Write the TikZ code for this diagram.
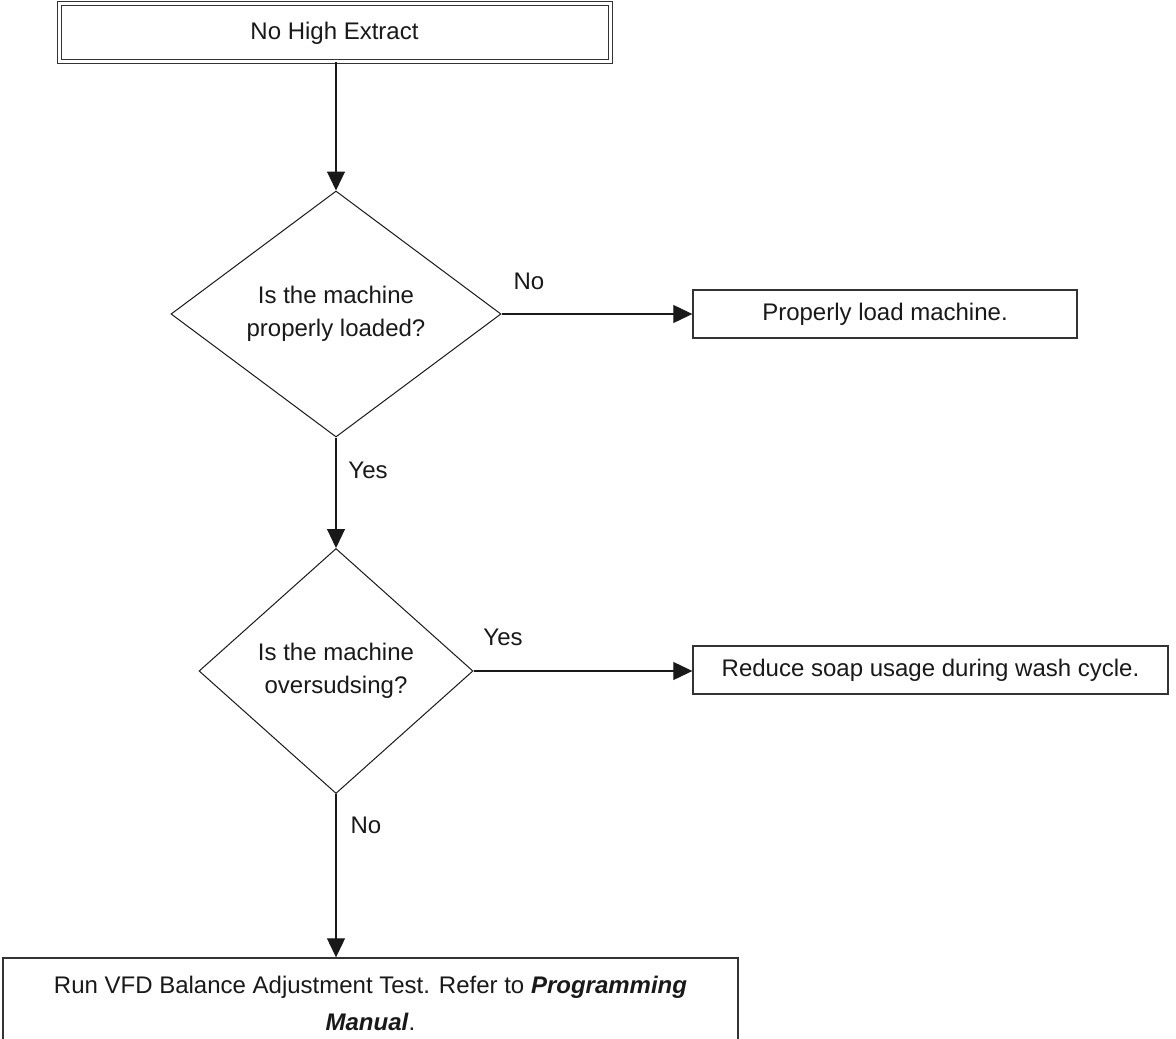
\documentclass[tikz,border=0pt]{standalone}
\usepackage{fontspec}
\setmainfont{Liberation Sans}
\usetikzlibrary{shapes.geometric,arrows.meta}
\begin{document}
\begin{tikzpicture}[x=0.5pt,y=-0.5pt,
  every node/.style={font=\fontsize{12}{16.5}\selectfont, text=black!90},
  line/.style={draw=black!90, line width=0.55pt},
  arr/.style={line, -{Triangle[length=9.5pt,width=9pt]}},
  procbox/.style={rectangle, draw=black!80, line width=0.7pt, inner sep=0pt},
  decision/.style={diamond, draw=black!90, line width=0.5pt, inner sep=0pt},
  lbl/.style={inner sep=0pt}
]
\useasboundingbox (0,0) rectangle (1176,1038);
\fill[white] (0,0) rectangle (1176,1038);

\node[procbox, double, double distance=1.5pt, line width=0.5pt,
      minimum width=275.5pt, minimum height=29pt] (start) at (334.5,33) {No High Extract};

\node[decision, aspect=1.34, minimum width=165pt, minimum height=123pt, align=center] (d1) at (336,314)
  {Is the machine\\properly loaded?};

\node[procbox, minimum width=192pt, minimum height=24pt] (load) at (885,314) {Properly load machine.};

\node[decision, aspect=1.12, minimum width=137pt, minimum height=122.5pt, align=center] (d2) at (336,671)
  {Is the machine\\oversudsing?};

\node[procbox, minimum width=237.5pt, minimum height=24pt] (soap) at (930.5,670) {Reduce soap usage during wash cycle.};

\node[procbox, minimum width=367.5pt, minimum height=45pt, align=center,
      font=\fontsize{12}{18.5}\selectfont] (vfd) at (370.5,1003)
  {Run VFD Balance Adjustment Test. Refer to \textbf{\textit{Programming}}\\\textbf{\textit{Manual}}.};

\draw[arr] (d1.north |- start.south) -- (d1.north);
\draw[arr] (d1.east) -- (load.west);
\draw[arr] (d1.south) -- (d2.north);
\draw[arr] (d2.east) -- (soap.west |- d2.east);
\draw[arr] (d2.south) -- (vfd.north -| d2.south);

\node[lbl] (no1) at (529,281) {No};
\node[lbl] (yes1) at (368,470) {Yes};
\node[lbl] (yes2) at (503,637) {Yes};
\node[lbl] (no2) at (366,825) {No};
\end{tikzpicture}
\end{document}
